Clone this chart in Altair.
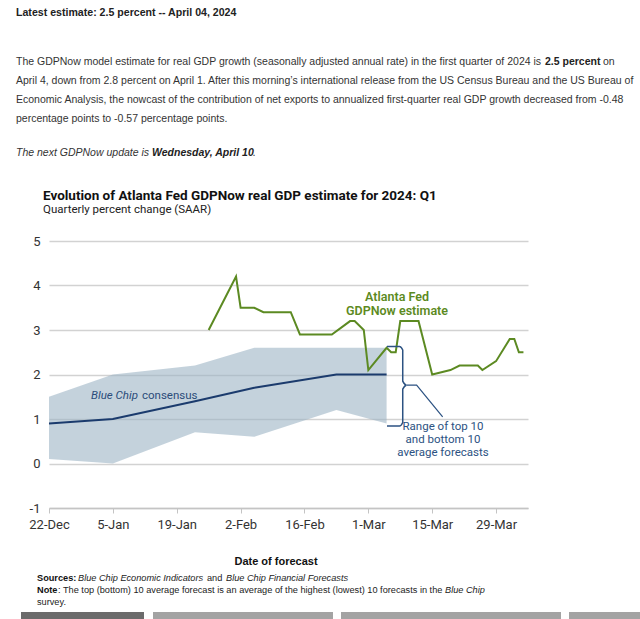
import altair as alt
import pandas as pd

# ---------------- data ----------------
gdpnow_dates = ["2024-01-26", "2024-02-01", "2024-02-02", "2024-02-05", "2024-02-07",
                "2024-02-13", "2024-02-15", "2024-02-22", "2024-02-26", "2024-02-27",
                "2024-02-29", "2024-03-01", "2024-03-05", "2024-03-06", "2024-03-07",
                "2024-03-08", "2024-03-12", "2024-03-15", "2024-03-19", "2024-03-21",
                "2024-03-25", "2024-03-26", "2024-03-29", "2024-04-01", "2024-04-02",
                "2024-04-03", "2024-04-04"]
gdpnow_values = [3.0, 4.2, 3.5, 3.5, 3.4, 3.4, 2.9, 2.9, 3.2, 3.2, 3.0, 2.1, 2.6, 2.5, 2.5,
                 3.2, 3.2, 2.0, 2.1, 2.2, 2.2, 2.1, 2.3, 2.8, 2.8, 2.5, 2.5]

bc_dates = ["2023-12-22", "2024-01-05", "2024-01-23", "2024-02-05", "2024-02-23", "2024-03-05"]
bc_consensus = [0.9, 1.0, 1.4, 1.7, 2.0, 2.0]
bc_top10 = [1.5, 2.0, 2.2, 2.6, 2.6, 2.6]
bc_bottom10 = [0.1, 0.0, 0.7, 0.6, 1.2, 0.9]

# bracket annotation (data space: date, value)
bracket_dates = ["2024-03-05T02:00:00Z", "2024-03-07T20:00:00Z", "2024-03-08T13:00:00Z",
                 "2024-03-08T13:00:00Z", "2024-03-09T09:00:00Z", "2024-03-08T13:00:00Z",
                 "2024-03-08T13:00:00Z", "2024-03-07T20:00:00Z", "2024-03-05T02:00:00Z"]
bracket_values = [2.63, 2.63, 2.55, 1.85, 1.76, 1.67, 0.92, 0.84, 0.84]
pointer_dates = ["2024-03-09T09:00:00Z", "2024-03-11T14:00:00Z", "2024-03-17T07:00:00Z"]
pointer_values = [1.76, 1.76, 1.05]

tick_dates = ["2023-12-22", "2024-01-05", "2024-01-19", "2024-02-02",
              "2024-02-16", "2024-03-01", "2024-03-15", "2024-03-29"]
y_ticks = [-1, 0, 1, 2, 3, 4, 5]

# ---------------- layout ----------------
W, H = 479, 267
PL, PT = 49, 241
PAGE_W, PAGE_H = 640, 619

GREEN = "#5c8a22"
NAVY = "#1b3b6d"
BRACKET = "#2c5282"
PAGE_FONT = "Liberation Sans, Arial, sans-serif"
CHART_FONT = "Roboto, Noto Sans, sans-serif"
P = 10.5   # page paragraph size
N = 9.2    # notes size


def dt(s):
    y, m, d = s.split("-")
    return alt.DateTime(year=int(y), month=int(m), date=int(d), utc=True)


gdp_df = pd.DataFrame({"date": gdpnow_dates, "value": gdpnow_values})
bc_df = pd.DataFrame({"date": bc_dates, "consensus": bc_consensus,
                      "top": bc_top10, "bottom": bc_bottom10})
br_df = pd.DataFrame({"date": bracket_dates, "value": bracket_values,
                      "order": list(range(len(bracket_dates)))})
pt_df = pd.DataFrame({"date": pointer_dates, "value": pointer_values,
                      "order": list(range(len(pointer_dates)))})

xscale = alt.Scale(type="utc", domain=[dt("2023-12-22"), dt("2024-04-05")])
yscale = alt.Scale(domain=[-1, 5], nice=False)

xaxis = alt.Axis(values=[dt(s) for s in tick_dates], format="%-d-%b", grid=False,
                 domainColor="#c4c4c4", domainWidth=1.5, tickColor="#c4c4c4", tickSize=5,
                 labelFont=CHART_FONT, labelFontSize=13, labelColor="#333333",
                 labelPadding=5, title=None, labelFlush=False)
yaxis = alt.Axis(values=y_ticks, grid=True, gridColor="#d2d2d2", gridWidth=1.5,
                 domain=False, ticks=False, labelFont=CHART_FONT, labelFontSize=13,
                 labelColor="#333333", labelPadding=9, title=None,
                 labelExpr="'' + datum.value")

band = alt.Chart(bc_df).mark_area(color="#9db4c4", opacity=0.6).encode(
    x=alt.X("date:T", scale=xscale, axis=xaxis),
    y=alt.Y("bottom:Q", scale=yscale, axis=yaxis),
    y2="top:Q",
)
cons = alt.Chart(bc_df).mark_line(color=NAVY, strokeWidth=2).encode(
    x="date:T", y="consensus:Q")
gdp = alt.Chart(gdp_df).mark_line(color=GREEN, strokeWidth=2).encode(
    x="date:T", y="value:Q")
bracket = alt.Chart(br_df).mark_line(color=BRACKET, strokeWidth=1.5, interpolate="monotone").encode(
    x="date:T", y="value:Q", order="order:Q")
pointer = alt.Chart(pt_df).mark_line(color=BRACKET, strokeWidth=1.2).encode(
    x="date:T", y="value:Q", order="order:Q")

blank = alt.InlineData(values=[{"k": 0}])


def label(text, x, y, size=P, font=PAGE_FONT, weight="normal", style="normal",
          color="#333333", align="left"):
    return alt.Chart(blank).mark_text(
        text=text, font=font, fontSize=size, fontWeight=weight, fontStyle=style,
        color=color, align=align, baseline="middle"
    ).encode(x=alt.value(x - PL), y=alt.value(y - PT))


def bar(x0, x1, color):
    return alt.Chart(blank).mark_rect(color=color).encode(
        x=alt.value(x0 - PL), x2=alt.value(x1 - PL),
        y=alt.value(612 - PT), y2=alt.value(619 - PT))


texts = [
    label("Latest estimate: 2.5 percent -- April 04, 2024", 16, 13, size=10.6, weight="bold", color="#222222"),
    label("The GDPNow model estimate for real GDP growth (seasonally adjusted annual rate) in the first quarter of 2024 is",
          16, 62),
    label("2.5 percent", 545, 62, weight="bold", color="#222222"),
    label("on", 603, 62),
    label("April 4, down from 2.8 percent on April 1. After this morning\u2019s international release from the US Census Bureau and the US Bureau of",
          16, 81),
    label("Economic Analysis, the nowcast of the contribution of net exports to annualized first-quarter real GDP growth decreased from -0.48",
          16, 100),
    label("percentage points to -0.57 percentage points.", 16, 119),
    label("The next GDPNow update is", 16, 153, style="italic"),
    label("Wednesday, April 10", 152, 153, style="italic", weight="bold", color="#222222"),
    label(".", 253, 153, style="italic"),
    # chart titles
    label("Evolution of Atlanta Fed GDPNow real GDP estimate for 2024: Q1", 43, 196,
          size=13.5, font=CHART_FONT, weight="bold", color="#111111"),
    label("Quarterly percent change (SAAR)", 43, 210, size=11.5, font=CHART_FONT, color="#222222"),
    # annotations
    label("Atlanta Fed", 397, 297, size=12.5, font=CHART_FONT, weight=600, color=GREEN, align="center"),
    label("GDPNow estimate", 397, 311, size=12.5, font=CHART_FONT, weight=600, color=GREEN, align="center"),
    label("Blue Chip", 91, 396, size=11.5, font=CHART_FONT, style="italic", color="#2b4c7a"),
    label("consensus", 142, 396, size=11.5, font=CHART_FONT, color="#2b4c7a"),
    label("Range of top 10", 443, 427, size=11.5, font=CHART_FONT, color=BRACKET, align="center"),
    label("and bottom 10", 443, 440, size=11.5, font=CHART_FONT, color=BRACKET, align="center"),
    label("average forecasts", 443, 453, size=11.5, font=CHART_FONT, color=BRACKET, align="center"),
    # x title and notes
    label("Date of forecast", 276, 562, size=11, weight="bold", color="#111111", align="center"),
    label("Sources:", 37, 578, size=N, weight="bold", color="#111111"),
    label("Blue Chip Economic Indicators", 78, 578, size=N, style="italic", color="#222222"),
    label("and", 207, 578, size=N, color="#222222"),
    label("Blue Chip Financial Forecasts", 226, 578, size=N, style="italic", color="#222222"),
    label("Note", 37, 590, size=N, weight="bold", color="#111111"),
    label(": The top (bottom) 10 average forecast is an average of the highest (lowest) 10 forecasts in the",
          58, 590, size=N, color="#222222"),
    label("Blue Chip", 445, 590, size=N, style="italic", color="#222222"),
    label("survey.", 37, 602, size=N, color="#222222"),
]

bars = [bar(21, 144, "#6b6b6b"), bar(153, 333, "#a3a3a3"),
        bar(341, 561, "#a3a3a3"), bar(569, 640, "#a3a3a3")]

chart = alt.layer(band, cons, gdp, bracket, pointer, *texts, *bars).properties(
    width=W, height=H,
    padding={"left": PL, "top": PT, "right": PAGE_W - PL - W, "bottom": PAGE_H - PT - H},
    autosize=alt.AutoSizeParams(type="none"),
    background="white",
).configure_view(stroke=None)

chart.save("out.html", embed_options={"renderer": "svg", "actions": False})
